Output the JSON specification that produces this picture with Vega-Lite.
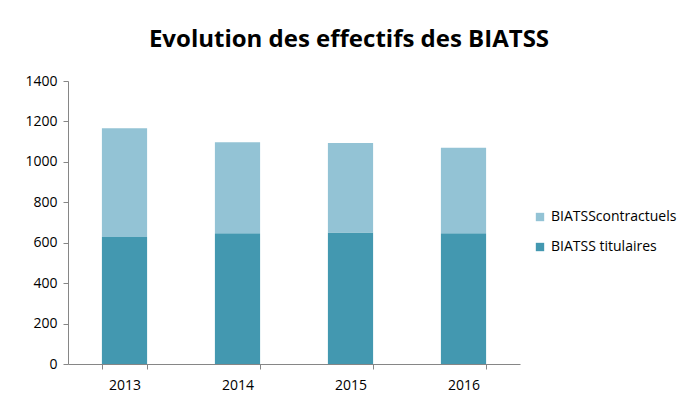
{
  "$schema": "https://vega.github.io/schema/vega-lite/v6.json",
  "width": 452,
  "height": 283,
  "autosize": {"type": "none"},
  "padding": {"left": 68, "top": 81, "right": 179, "bottom": 37},
  "background": "white",
  "title": {
    "text": "Evolution des effectifs des BIATSS",
    "font": "Open Sans",
    "fontSize": 24,
    "fontWeight": "bold",
    "color": "#000000",
    "anchor": "middle",
    "dx": 55,
    "offset": 22
  },
  "data": {
    "values": [
      {"annee": "2013", "categorie": "BIATSS titulaires", "effectif": 628, "ordre": 1},
      {"annee": "2013", "categorie": "BIATSScontractuels", "effectif": 538, "ordre": 2},
      {"annee": "2014", "categorie": "BIATSS titulaires", "effectif": 647, "ordre": 1},
      {"annee": "2014", "categorie": "BIATSScontractuels", "effectif": 450, "ordre": 2},
      {"annee": "2015", "categorie": "BIATSS titulaires", "effectif": 651, "ordre": 1},
      {"annee": "2015", "categorie": "BIATSScontractuels", "effectif": 442, "ordre": 2},
      {"annee": "2016", "categorie": "BIATSS titulaires", "effectif": 647, "ordre": 1},
      {"annee": "2016", "categorie": "BIATSScontractuels", "effectif": 423, "ordre": 2}
    ]
  },
  "mark": {"type": "bar"},
  "encoding": {
    "x": {
      "field": "annee",
      "type": "nominal",
      "title": null,
      "scale": {"paddingInner": 0.6, "paddingOuter": 0.3},
      "axis": {
        "labelAngle": 0,
        "labelFont": "Open Sans",
        "labelFontSize": 14,
        "labelColor": "#000000",
        "labelPadding": 9,
        "domainColor": "#868686",
        "tickColor": "#868686",
        "tickBand": "extent",
        "tickSize": 5
      }
    },
    "y": {
      "field": "effectif",
      "type": "quantitative",
      "stack": "zero",
      "title": null,
      "scale": {"domain": [0, 1400]},
      "axis": {
        "values": [0, 200, 400, 600, 800, 1000, 1200, 1400],
        "format": "d",
        "grid": false,
        "labelFont": "Open Sans",
        "labelFontSize": 14,
        "labelColor": "#000000",
        "labelPadding": 6,
        "domainColor": "#868686",
        "tickColor": "#868686",
        "tickSize": 5
      }
    },
    "color": {
      "field": "categorie",
      "type": "nominal",
      "scale": {
        "domain": ["BIATSScontractuels", "BIATSS titulaires"],
        "range": ["#93C3D5", "#4398B0"]
      },
      "legend": {
        "title": null,
        "orient": "none",
        "legendX": 465,
        "legendY": 129,
        "symbolType": "square",
        "symbolSize": 70,
        "symbolStrokeWidth": 0,
        "labelFont": "Open Sans",
        "labelFontSize": 14,
        "labelColor": "#000000",
        "rowPadding": 16
      }
    },
    "order": {"field": "ordre", "type": "quantitative"}
  },
  "config": {
    "view": {"stroke": null}
  }
}
